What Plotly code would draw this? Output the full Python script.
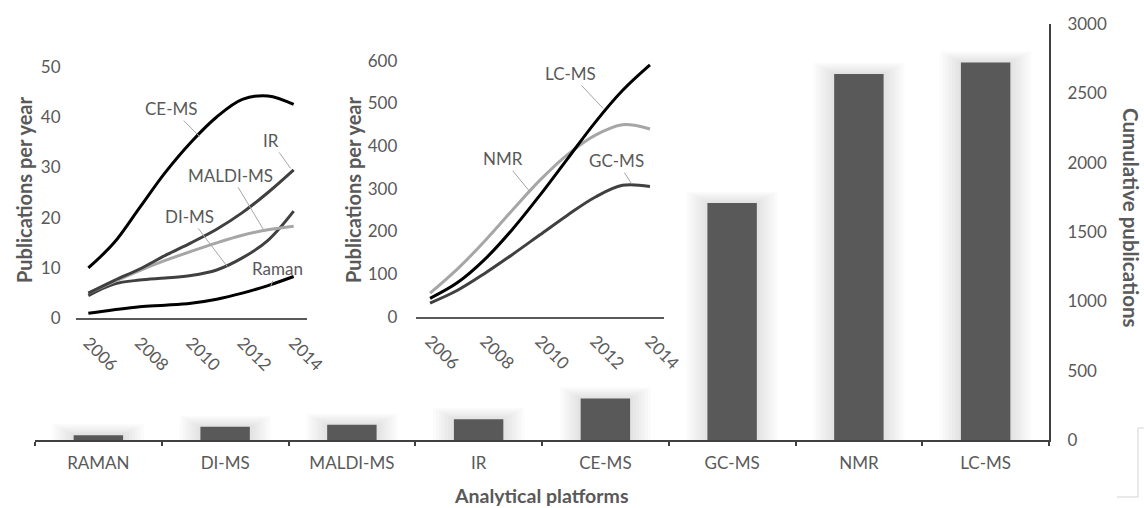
import plotly.graph_objects as go

# ---- data ----
platforms = ["RAMAN", "DI-MS", "MALDI-MS", "IR", "CE-MS", "GC-MS", "NMR", "LC-MS"]
cumulative = [35, 95, 110, 150, 300, 1710, 2640, 2722]

years = [2006, 2007, 2008, 2009, 2010, 2011, 2012, 2013, 2014]

# low-volume platforms (publications per year)
ce_ms = [10, 15, 22, 29, 35, 40, 43.5, 44.2, 42.5]
ir = [5, 7.5, 9.8, 12.5, 15, 17.7, 21, 25, 29.5]
maldi_ms = [5, 7.3, 9.5, 11.5, 13.3, 15, 16.5, 17.6, 18.3]
di_ms = [4.5, 6.8, 7.6, 8, 8.5, 9.6, 12, 15.5, 21.3]
raman = [1, 1.7, 2.3, 2.6, 3, 3.8, 5, 6.5, 8.3]

# high-volume platforms (publications per year)
lc_ms = [43, 80, 135, 205, 285, 370, 455, 530, 590]
nmr = [55, 112, 178, 250, 320, 380, 425, 450, 440]
gc_ms = [32, 62, 102, 146, 192, 238, 280, 308, 305]

year_ticks = [2006, 2008, 2010, 2012, 2014]

# ---- page geometry ----
W, H = 1144, 508
FONT = "Lato"
TXT = "#595959"
AX = "#404040"


def px_x(p):
    return p / W


def px_y(p):
    return (H - p) / H


fig = go.Figure()

# main plot: cumulative bars on a right-hand axis
main_top, main_bot = 24, 440
units_per_px = 3000 / (main_bot - main_top)
bar_w = 0.39
cat_px = (1049 - 35) / len(platforms)

# soft outer shadow around the bars
for k in range(7, 0, -1):
    fig.add_trace(go.Bar(
        x=platforms,
        y=[v + k * 1.6 * units_per_px for v in cumulative],
        width=bar_w + k * 6 / cat_px,
        marker=dict(color="rgba(0,0,0,0.015)", line=dict(width=0)),
        hoverinfo="skip", xaxis="x", yaxis="y",
    ))

fig.add_trace(go.Bar(
    x=platforms, y=cumulative, width=bar_w,
    marker=dict(color="#595959", line=dict(width=0)),
    xaxis="x", yaxis="y",
))

# inset 1
for name, vals, col in [
    ("Raman", raman, "#000000"),
    ("DI-MS", di_ms, "#404040"),
    ("MALDI-MS", maldi_ms, "#a6a6a6"),
    ("IR", ir, "#404040"),
    ("CE-MS", ce_ms, "#000000"),
]:
    fig.add_trace(go.Scatter(
        x=years, y=vals, name=name, mode="lines",
        line=dict(color=col, width=3, shape="spline", smoothing=1),
        xaxis="x2", yaxis="y2",
    ))

# inset 2
for name, vals, col in [
    ("GC-MS", gc_ms, "#404040"),
    ("NMR", nmr, "#a6a6a6"),
    ("LC-MS", lc_ms, "#000000"),
]:
    fig.add_trace(go.Scatter(
        x=years, y=vals, name=name, mode="lines",
        line=dict(color=col, width=3, shape="spline", smoothing=1),
        xaxis="x3", yaxis="y3",
    ))

tick_font = dict(family=FONT, size=17, color=TXT)

common = dict(automargin=False, showgrid=False, zeroline=False,
              fixedrange=True, tickfont=tick_font)

inset_x = dict(
    common, range=[2005.5, 2014.5], tickvals=year_ticks, tickangle=45,
    showline=True, linecolor=TXT, linewidth=2, ticks="",
    ticklabelstandoff=6,
)
inset_y = dict(common, showline=False, ticks="")

fig.update_layout(
    template="none",
    width=W, height=H,
    margin=dict(l=0, r=0, t=0, b=0, pad=0),
    paper_bgcolor="white", plot_bgcolor="rgba(0,0,0,0)",
    showlegend=False, barmode="overlay",
    font=dict(family=FONT, color=TXT),
    xaxis=dict(
        common, domain=[px_x(35), px_x(1049)], range=[-0.5, 7.5],
        showline=True, linecolor=AX, linewidth=2,
        ticks="outside", tickson="boundaries", ticklen=4, tickwidth=2,
        tickcolor=AX, anchor="y", ticklabelstandoff=7,
    ),
    yaxis=dict(
        common, domain=[px_y(main_bot), px_y(main_top)], range=[0, 3000],
        dtick=500, side="right", anchor="x",
        showline=True, linecolor=AX, linewidth=2, ticks="",
        ticklabelstandoff=13,
    ),
    xaxis2=dict(inset_x, domain=[px_x(75.5), px_x(306.5)], anchor="y2"),
    yaxis2=dict(inset_y, domain=[px_y(318.3), px_y(66.7)], range=[0, 50],
                dtick=10, anchor="x2", ticklabelstandoff=14),
    xaxis3=dict(inset_x, domain=[px_x(416.3), px_x(663.7)], anchor="y3"),
    yaxis3=dict(inset_y, domain=[px_y(316.7), px_y(60.7)], range=[0, 600],
                dtick=100, anchor="x3", ticklabelstandoff=18),
)

# axis titles
for text, x, y, ang, size in [
    ("Publications per year", 24, 190, -90, 20),
    ("Publications per year", 353, 190, -90, 20),
    ("Cumulative publications", 1131, 218, 90, 20.5),
    ("Analytical platforms", 541, 495, 0, 19.5),
]:
    fig.add_annotation(
        text=text, x=px_x(x), y=px_y(y), xref="paper", yref="paper",
        showarrow=False, textangle=ang, borderpad=0,
        font=dict(family=FONT, size=size, color=TXT, weight="bold"),
        xanchor="center", yanchor="middle",
    )

# series labels with leader lines
label_font = dict(family=FONT, size=17, color=TXT)
for text, ax_ref, ay_ref, x, y, dx, dy in [
    ("CE-MS", "x2", "y2", 2010.34, 36.1, -28, -28),
    ("IR", "x2", "y2", 2013.88, 29.8, -20, -28),
    ("MALDI-MS", "x2", "y2", 2012.84, 17.5, -33, -55),
    ("DI-MS", "x2", "y2", 2011.41, 10.3, -38, -50),
    ("Raman", "x2", "y2", 2013.1, 6.3, 7, -18),
    ("LC-MS", "x3", "y3", 2012.3, 488, -33, -35),
    ("NMR", "x3", "y3", 2009.63, 293, -27, -33),
    ("GC-MS", "x3", "y3", 2013.33, 312, -15, -23),
]:
    fig.add_annotation(
        text=text, x=x, y=y, xref=ax_ref, yref=ay_ref,
        ax=dx, ay=dy, showarrow=True, arrowhead=0, arrowwidth=1,
        arrowcolor="#a6a6a6", standoff=0, font=label_font,
    )

# thin frame fragment in the lower-right corner
frame = "#d4d4d4"
for x0, y0, x1, y1 in [(1138, 428, 1138, 497), (1117, 497, 1138, 497),
                       (1138, 428, 1144, 428)]:
    fig.add_shape(type="line", xref="paper", yref="paper",
                  x0=px_x(x0), y0=px_y(y0), x1=px_x(x1), y1=px_y(y1),
                  line=dict(color=frame, width=1))

fig.write_html("out.html")
